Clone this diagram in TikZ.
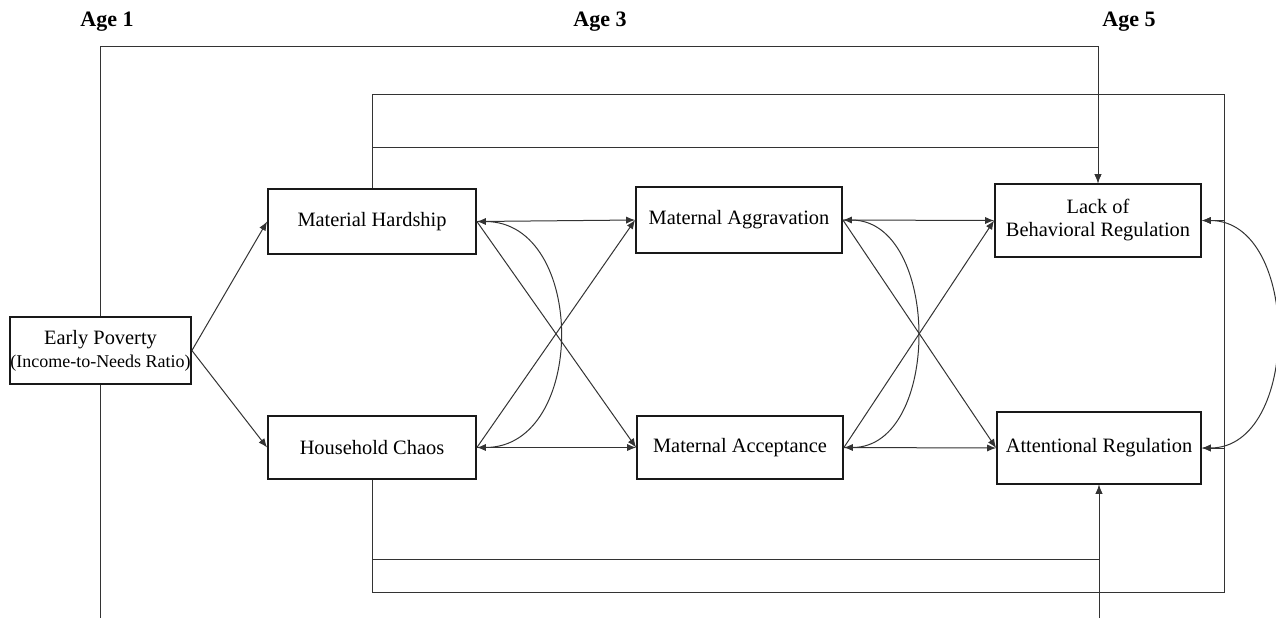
\documentclass[tikz,border=0pt]{standalone}
\usepackage{fontspec}
\setmainfont{Liberation Serif}
\usetikzlibrary{arrows.meta}
\tikzset{
  varbox/.style={draw=black!90, line width=0.9pt, fill=white, inner sep=0pt, align=center, font=\fontsize{10.2}{11.5}\selectfont},
  agelabel/.style={font=\fontsize{11}{13}\selectfont\bfseries},
  conn/.style={draw=black!80, line width=0.5pt},
  arr/.style={conn, -{Latex[length=4.5pt,width=3.6pt]}},
  cov/.style={conn, {Latex[length=4.5pt,width=3.6pt]}-{Latex[length=4.5pt,width=3.6pt]}}
}

\begin{document}
\begin{tikzpicture}[x=0.5pt, y=-0.5pt]
			%%%%% START %%%%%
			\useasboundingbox (0,0) rectangle (1276,618);
			
			\node[agelabel] (age1) at (107,22) {Age 1};
			\node[agelabel] (age3) at (600,22) {Age 3};
			\node[agelabel] (age5) at (1129,22) {Age 5};
			
			\coordinate (top1) at (0,46);
			\coordinate (top2) at (0,147);
			\coordinate (top3) at (1224,94);
			\coordinate (bot1) at (0,618);
			\coordinate (bot2) at (0,559);
			\coordinate (bot3) at (1224,592);
			
			\node[varbox, minimum width=90.5pt, minimum height=33.5pt] (ep) at (100.5,350.5) {Early Poverty\\{\fontsize{9}{11}\selectfont (Income-to-Needs Ratio)}};
			
			\node[varbox, minimum width=104pt, minimum height=32.5pt] (mh) at (372,221.5) {Material Hardship};
			\node[varbox, minimum width=104pt, minimum height=31.5pt] (hc) at (372,447.5) {Household Chaos};
			
			\node[varbox, minimum width=103pt, minimum height=33pt] (ma) at (739,220) {Maternal Aggravation};
			\node[varbox, minimum width=103pt, minimum height=31.5pt] (mac) at (740,447.5) {Maternal Acceptance};
			
			\node[varbox, minimum width=103pt, minimum height=36.5pt] (lbr) at (1098,220.5) {Lack of\\Behavioral Regulation};
			\node[varbox, minimum width=102pt, minimum height=36pt] (ar) at (1099,448) {Attentional Regulation};
			
			% long paths round the outside
			\draw[arr] (ep.north) -- (ep.north |- top1) -| (lbr.north);
			\draw[arr] (mh.north) -- (mh.north |- top2) -| (lbr.north);
			\draw[arr] (mh.north) |- (top3) |- (ar.east);
			\draw[arr] (hc.south) |- (bot3) |- (lbr.east);
			\draw[arr] (hc.south) -- (hc.south |- bot2) -| (ar.south);
			\draw[conn] (ep.south) -- (ep.south |- bot1);
			\draw[arr] (ar.south |- bot1) -- (ar.south);
			
			% age 1 -> age 3
			\draw[arr] (ep.east) -- (mh.west);
			\draw[arr] (ep.east) -- (hc.west);
			
			% age 3 -> age 3
			\draw[arr] (mh.east) -- (ma.west);
			\draw[arr] (mh.east) -- (mac.west);
			\draw[arr] (hc.east) -- (ma.west);
			\draw[arr] (hc.east) -- (mac.west);
			\draw[cov] (mh.east) to[out=0, in=0, looseness=1.25] (hc.east);
			
			% age 3 -> age 5
			\draw[arr] (ma.east) -- (lbr.west);
			\draw[arr] (ma.east) -- (ar.west);
			\draw[arr] (mac.east) -- (lbr.west);
			\draw[arr] (mac.east) -- (ar.west);
			\draw[cov] (ma.east) to[out=0, in=0, looseness=1.1] (mac.east);
			\draw[cov] (lbr.east) to[out=0, in=0, looseness=1.12] (ar.east);
			
			%%%%% END %%%%%
		\end{tikzpicture}
\end{document}
